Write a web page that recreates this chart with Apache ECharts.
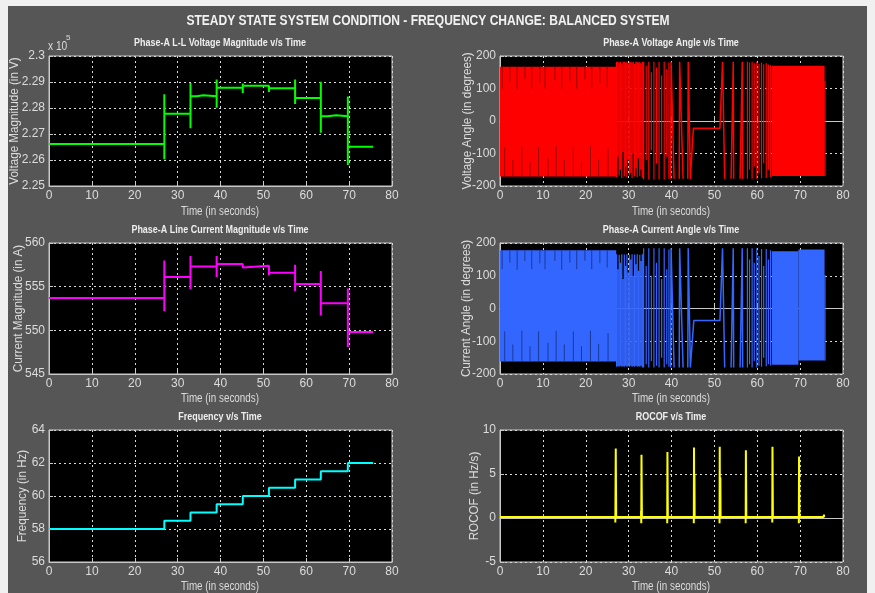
<!DOCTYPE html>
<html><head><meta charset="utf-8">
<script src="https://cdn.jsdelivr.net/npm/echarts@6/dist/echarts.min.js"></script>
<style>
html,body{margin:0;padding:0;background:#f0f0f0;}
#chart{width:875px;height:593px;background:linear-gradient(#565656,#565656) 8px 6px/859px 587px no-repeat,#f0f0f0;}
</style></head><body><div id="chart"></div>
<script>
// ---------- DATA ----------
const xTicks = {min:0, max:80, interval:10};
// Voltage magnitude (V), step changes with transients
const vmagPts = [
 [0,226620],[26.9,226620],[26.9,226030],[26.9,228530],[26.9,227780],
 [33.0,227780],[33.0,227220],[33.0,228960],[33.0,228450],
 [34.4,228450],[34.4,228490],[36.0,228490],[36.0,228450],
 [39.1,228450],[39.1,228010],[39.1,229100],[39.1,228780],
 [45.2,228780],[45.2,228580],[45.2,228940],[45.2,228860],
 [51.3,228860],[51.3,228620],[51.3,228760],
 [57.4,228760],[57.4,228150],[57.4,229100],[57.4,228380],
 [63.4,228380],[63.4,227050],[63.4,229010],[63.4,227680],
 [65.0,227680],[65.0,227720],[67.0,227720],[67.0,227680],
 [69.7,227680],[69.7,225810],[69.7,228440],[69.7,226510],
 [75.6,226510]
];
// Current magnitude (A)
const cmagPts = [
 [0,553.7],[26.9,553.7],[26.9,552.2],[26.9,558.0],[26.9,556.1],
 [33.0,556.1],[33.0,554.7],[33.0,558.5],[33.0,557.3],
 [39.1,557.3],[39.1,556.1],[39.1,558.5],[39.1,557.6],
 [45.2,557.6],[45.2,557.2],[45.2,557.4],
 [51.3,557.4],[51.3,556.3],[51.3,556.6],
 [57.4,556.6],[57.4,554.5],[57.4,557.5],[57.4,555.3],
 [63.4,555.3],[63.4,551.7],[63.4,556.8],[63.4,553.1],
 [69.7,553.1],[69.7,548.1],[69.7,554.8],[69.7,549.8],
 [75.6,549.8]
];
// Frequency (Hz)
const freqPts = [
 [0,58],[26.9,58],[26.9,58.5],[33.0,58.5],[33.0,59],[39.1,59],[39.1,59.5],
 [45.2,59.5],[45.2,60],[51.3,60],[51.3,60.5],[57.4,60.5],[57.4,61],
 [63.4,61],[63.4,61.5],[69.7,61.5],[69.7,62],[75.6,62]
];
// ROCOF (Hz/s)
const rocofPts = [
 [0,0.1],[26.9,0.1],[26.9,-0.5],[27.0,7.9],[27.1,0.1],
 [32.9,0.1],[32.9,0.8],[32.95,-0.6],[33.0,7.2],[33.1,0.1],
 [39.0,0.1],[39.0,-0.6],[39.05,7.5],[39.15,0.1],
 [45.2,0.1],[45.2,-0.6],[45.25,8.0],[45.3,0.1],[45.35,5.0],[45.4,0.1],
 [51.2,0.1],[51.2,-0.6],[51.25,8.1],[51.3,0.1],[51.4,4.6],[51.45,0.1],
 [57.3,0.1],[57.3,-0.6],[57.35,7.7],[57.45,0.1],
 [63.5,0.1],[63.5,-0.5],[63.55,8.1],[63.65,0.1],
 [69.7,0.1],[69.7,-0.6],[69.75,7.0],[69.85,0.1],
 [75.5,0.1],[75.55,0.4],[75.6,0.1]
];
// Voltage angle (deg): solid wrapped bands [tStart,tEnd,high,low]
const vaBands = [[0,27.1,167,-171],[63.4,75.7,170,-169]];
// Voltage angle: visible wrap strokes
const vaStrokeT  = [27.2,27.5,27.8,28.1,28.4,28.7,29.0,29.3,29.6,29.9,30.2,30.5,30.8,31.1,31.4,31.7,32.0,32.3,32.6,32.9,33.2,
                    33.5,34.1,34.7,35.3,35.9,36.5,37.1,37.7,38.3,38.9,39.4,
                    57.7,58.2,58.8,59.3,59.9,60.4,61.0,61.5,62.1,62.6,63.1,75.8];
const vaStrokeHi = [182,182,180,182,175,182,182,180,182,178,182,182,180,182,176,182,182,180,182,178,182,
                    182,170,182,150,182,165,182,140,182,160,180,
                    182,180,182,178,182,176,180,175,178,174,172,123];
const vaStrokeLo = [-172,-110,-168,-150,-175,-95,-170,-140,-172,-120,-168,-160,-175,-100,-170,-145,-172,-115,-170,-150,-175,
                    -180,-120,-180,-90,-180,-130,-180,-100,-180,-110,-178,
                    -178,-150,-178,-140,-178,-160,-176,-130,-175,-150,-172,-169];
// Voltage angle: darker aliasing stripes inside the solid band [t, from, to]
const vaDarkT    = [0.5,2.3,4.0,5.8,7.4,9.3,10.5,12.8,14.4,16.3,17.9,19.8,21.4,23.3,25.0,
                    1.1,3.0,5.1,7.0,9.0,11.2,13.1,15.0,17.1,19.0,21.1,23.0,25.2];
const vaDarkFrom = [167,167,167,167,167,167,167,167,167,167,167,167,167,167,167,
                    -171,-171,-171,-171,-171,-171,-171,-171,-171,-171,-171,-171,-171];
const vaDarkTo   = [100,120,98,130,100,118,100,125,98,120,100,128,100,118,105,
                    -80,-120,-78,-125,-80,-115,-78,-120,-80,-125,-78,-118,-85];
// Voltage angle: slow wraps and frozen angle ('-' = pen up)
const vaPath = [
 [39.8,-178],[39.9,182],[40.6,-178],[40.6,'-'],
 [41.8,-178],[41.9,182],[42.7,-178],[42.7,'-'],
 [43.8,-178],[43.9,182],[44.4,-178],[45.1,-22],[51.3,-22],[51.9,182],[52.4,-178],[52.4,'-'],
 [53.9,-178],[54.4,182],[54.5,-178],[54.5,'-'],
 [56.0,-178],[56.5,182],[56.6,-178]
];
// Current angle (deg)
const caBands = [[0,27.1,178,-162],[63.4,69.6,175,-172],[69.6,75.7,180,-159]];
const caStrokeT  = [27.2,27.5,27.8,28.1,28.4,28.7,29.0,29.3,29.6,29.9,30.2,30.5,30.8,31.1,31.4,31.7,32.0,32.3,32.6,32.9,33.2,
                    33.5,34.1,34.7,35.3,35.9,36.5,37.1,37.7,38.3,38.9,39.4,
                    57.7,58.2,58.8,59.3,59.9,60.4,61.0,61.5,62.1,62.6,63.1,75.8];
const caStrokeHi = [166,120,164,140,166,90,165,130,166,110,164,150,166,100,165,135,166,115,164,145,166,
                    184,130,184,100,184,140,184,90,184,120,180,
                    184,150,184,140,184,160,182,130,182,150,178,102];
const caStrokeLo = [-178,-176,-178,-175,-178,-176,-178,-175,-178,-176,-178,-175,-178,-176,-178,-175,-178,-176,-178,-175,-180,
                    -180,-170,-180,-160,-180,-175,-180,-150,-180,-170,-178,
                    -180,-170,-180,-160,-180,-175,-178,-150,-176,-170,-174,-159];
const caDarkT    = [0.5,2.3,4.0,5.8,7.4,9.3,10.5,12.8,14.4,16.3,17.9,19.8,21.4,23.3,25.0,
                    1.1,3.0,5.1,7.0,9.0,11.2,13.1,15.0,17.1,19.0,21.1,23.0,25.2];
const caDarkFrom = [178,178,178,178,178,178,178,178,178,178,178,178,178,178,178,
                    -162,-162,-162,-162,-162,-162,-162,-162,-162,-162,-162,-162,-162];
const caDarkTo   = [120,140,118,145,120,138,120,145,118,140,120,146,120,138,125,
                    -70,-110,-68,-115,-70,-105,-68,-110,-70,-115,-68,-108,-75];
const caPath = [
 [39.8,-180],[39.9,184],[40.6,-180],[40.6,'-'],
 [41.8,-180],[41.9,184],[42.7,-180],[42.7,'-'],
 [43.8,-180],[43.9,184],[44.4,-180],[45.2,-37],[51.3,-37],[51.9,184],[52.4,-180],[52.4,'-'],
 [53.9,-180],[54.4,184],[54.5,-180],[54.5,'-'],
 [56.0,-180],[56.5,184],[56.6,-180]
];
const mainTitle = 'STEADY STATE SYSTEM CONDITION - FREQUENCY CHANGE: BALANCED SYSTEM';
const subTitles = ['Phase-A L-L Voltage Magnitude v/s Time','Phase-A Voltage Angle v/s Time',
 'Phase-A Line Current Magnitude v/s Time','Phase-A Current Angle v/s Time',
 'Frequency v/s Time','ROCOF v/s Time'];
const yNames = ['Voltage Magnitude (in V)','Voltage Angle (in degrees)','Current Magnitude (in A)',
 'Current Angle (in degrees)','Frequency (in Hz)','ROCOF (in Hz/s)'];
const yScales = [[225000,230000,1000],[-200,200,100],[545,560,5],[-200,200,100],[56,64,2],[-5,10,5]];
const xName = 'Time (in seconds)';
const expText = 'x 10', expPow = '5';

// ---------- LAYOUT / STYLE ----------
const FF = '"Liberation Sans",Arial,sans-serif';
const grids = [
 {left:49, top:56, width:343, height:130},{left:500, top:56, width:343, height:130},
 {left:49, top:243, width:343, height:131},{left:500, top:243, width:343, height:131},
 {left:49, top:430, width:343, height:132},{left:500, top:430, width:343, height:132}
];
const subPos = [[220,42.5],[671,42.5],[220,229.7],[671,229.7],[220,417],[671,417]];
const yNamePos = [[15,121],[468,121],[19,308.5],[467,308.5],[23,496],[475,496]];
const xNamePos = [[220,212],[671,212],[220,399],[671,399],[220,587],[671,587]];
const TXT = '#dcdcdc';
const split = {show:true, lineStyle:{color:'#d8d8d8', type:[2,3], width:1}};

function strokes(T,H,L){const d=[];T.forEach((t,i)=>{d.push([t,H[i]],[t,L[i]],[t,'-']);});return d;}
function bandsArea(B,color){return {silent:true,itemStyle:{color:color,opacity:1},
  data:B.map(b=>[{coord:[b[0],b[2]]},{coord:[b[1],b[3]]}])};}
function txt(t,x,y,font,sx,rot,fill){return {type:'text',x:x,y:y,scaleX:sx,rotation:rot||0,silent:true,z:100,
  style:{text:t,font:font,fill:fill||TXT,align:'center',verticalAlign:'middle'}};}

const graphics = [txt(mainTitle,428,21,'bold 14px '+FF,0.86,0,'#f2f2f2')];
subTitles.forEach((t,i)=>graphics.push(txt(t,subPos[i][0],subPos[i][1],'bold 11px '+FF,0.815,0,'#eeeeee')));
yNames.forEach((t,i)=>graphics.push(txt(t,yNamePos[i][0],yNamePos[i][1],'12px '+FF,0.97,Math.PI/2)));
xNamePos.forEach(p=>graphics.push(txt(xName,p[0],p[1],'12px '+FF,0.82,0)));
graphics.push({type:'text',x:48,y:47,scaleX:0.85,silent:true,style:{text:expText,font:'12px '+FF,fill:TXT,align:'left',verticalAlign:'middle'}});
graphics.push({type:'text',x:66,y:38,silent:true,style:{text:expPow,font:'8px '+FF,fill:TXT,align:'left',verticalAlign:'middle'}});

const option = {
 animation:false,
 grid: grids.map(g=>Object.assign({show:true,backgroundColor:'#000',borderColor:'#c8c8c8',borderWidth:1},g)),
 xAxis: grids.map((g,i)=>({type:'value',gridIndex:i,min:xTicks.min,max:xTicks.max,interval:xTicks.interval,
   axisLine:{lineStyle:{color:'#c8c8c8'}},axisTick:{inside:true,length:4,lineStyle:{color:'#c8c8c8'}},
   axisLabel:{color:TXT,fontFamily:FF,fontSize:12,margin:4},splitLine:split})),
 yAxis: grids.map((g,i)=>({type:'value',gridIndex:i,min:yScales[i][0],max:yScales[i][1],interval:yScales[i][2],
   axisLine:{show:true,lineStyle:{color:'#c8c8c8'}},axisTick:{show:true,inside:true,length:4,lineStyle:{color:'#c8c8c8'}},
   axisLabel:{color:TXT,fontFamily:FF,fontSize:12,margin:4,
     formatter: i===0 ? (v=>String(+(v/1e5).toFixed(2))) : (v=>String(v))},
   splitLine:split})),
 graphic: graphics,
 series:[
  {type:'line',xAxisIndex:0,yAxisIndex:0,data:vmagPts,showSymbol:false,lineStyle:{color:'#00ff00',width:2}},
  {type:'line',xAxisIndex:1,yAxisIndex:1,data:strokes(vaStrokeT,vaStrokeHi,vaStrokeLo),showSymbol:false,
   connectNulls:false,lineStyle:{color:'#ff0000',width:1.2},markArea:bandsArea(vaBands,'#ff0000')},
  {type:'line',xAxisIndex:1,yAxisIndex:1,data:strokes(vaDarkT,vaDarkFrom,vaDarkTo),showSymbol:false,z:3,
   connectNulls:false,lineStyle:{color:'#990000',width:1}},
  {type:'line',xAxisIndex:1,yAxisIndex:1,data:vaPath,showSymbol:false,connectNulls:false,lineStyle:{color:'#ff0000',width:1.5}},
  {type:'line',xAxisIndex:2,yAxisIndex:2,data:cmagPts,showSymbol:false,lineStyle:{color:'#ff00ff',width:2}},
  {type:'line',xAxisIndex:3,yAxisIndex:3,data:strokes(caStrokeT,caStrokeHi,caStrokeLo),showSymbol:false,
   connectNulls:false,lineStyle:{color:'#3366ff',width:1.2},markArea:bandsArea(caBands,'#3366ff')},
  {type:'line',xAxisIndex:3,yAxisIndex:3,data:strokes(caDarkT,caDarkFrom,caDarkTo),showSymbol:false,z:3,
   connectNulls:false,lineStyle:{color:'#1a3a99',width:1}},
  {type:'line',xAxisIndex:3,yAxisIndex:3,data:caPath,showSymbol:false,connectNulls:false,lineStyle:{color:'#3366ff',width:1.5}},
  {type:'line',xAxisIndex:4,yAxisIndex:4,data:freqPts,showSymbol:false,lineStyle:{color:'#00ffff',width:2}},
  {type:'line',xAxisIndex:5,yAxisIndex:5,data:rocofPts,showSymbol:false,lineStyle:{color:'#ffff00',width:2}}
 ]
};
const chart = echarts.init(document.getElementById('chart'),null,{renderer:'canvas'});
chart.setOption(option);
</script></body></html>
